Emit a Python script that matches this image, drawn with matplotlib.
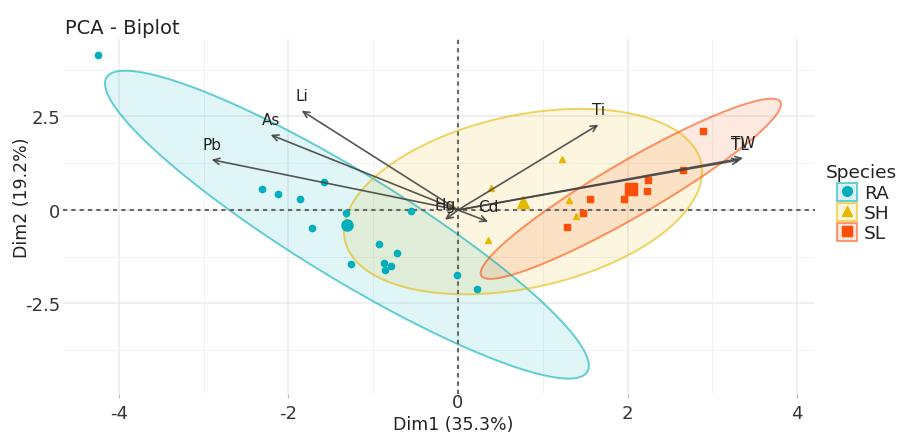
import numpy as np
import matplotlib
matplotlib.use("Agg")
import matplotlib.pyplot as plt
from matplotlib.patches import Patch, Polygon
from matplotlib.lines import Line2D
from matplotlib.legend_handler import HandlerTuple
from matplotlib.transforms import blended_transform_factory


# individuals
ra_x = [-4.245, -2.315, -2.126, -1.863, -1.577, -1.325, -1.725, -0.554,
        -0.928, -0.723, -0.869, -0.794, -0.857, -1.262, -0.015, 0.22]
ra_y = [4.14, 0.56, 0.42, 0.29, 0.74, -0.08, -0.47, -0.02,
        -0.90, -1.14, -1.41, -1.51, -1.60, -1.44, -1.74, -2.11]
sh_x = [1.230, 0.389, 1.313, 1.392, 0.350, -0.074]
sh_y = [1.364, 0.58, 0.275, -0.152, -0.81, 0.094]
sl_x = [2.893, 2.657, 2.241, 2.233, 1.961, 1.561, 1.470, 1.285]
sl_y = [2.104, 1.078, 0.81, 0.50, 0.286, 0.286, -0.08, -0.446]

species = ["RA", "SH", "SL"]
colors = ["#00AFBB", "#E7B800", "#FC4E07"]
markers = ["o", "^", "s"]

# variables
var_names = ["Li", "As", "Pb", "Ti", "TL", "TW", "Hg", "Cd"]
var_x = [-1.843, -2.209, -2.905, 1.655, 3.325, 3.361, -0.153, 0.354]
var_y = [2.655, 2.01, 1.345, 2.28, 1.34, 1.39, -0.26, -0.31]

x_ticks = [-4, -2, 0, 2, 4]
y_ticks = [-2.5, 0, 2.5]

FONT = "DejaVu Sans"
TEXT = "#222222"


def conf_ellipse(x, y, level=0.95, n_pts=120):
    """
    Normal confidence ellipse like ggplot's stat_ellipse(type = "norm").
    """
    x = np.asarray(x)
    y = np.asarray(y)
    n = len(x)
    cov = np.cov(x, y)
    d = n - 1
    f = d / 2 * ((1 - level) ** (-2 / d) - 1)   # qf(level, 2, d)
    r = np.sqrt(2 * f)
    upper = np.linalg.cholesky(cov).T
    t = np.linspace(0, 2 * np.pi, n_pts)
    circ = np.column_stack([np.cos(t), np.sin(t)])
    return np.array([x.mean(), y.mean()]) + r * circ @ upper


def main() -> None:
    plt.rcParams["font.family"] = [FONT]
    fig = plt.figure(figsize=(9.06, 4.35), dpi=100)
    ax = fig.add_axes([63 / 906, 1 - 395 / 435, 752 / 906, 355 / 435])

    groups = [(ra_x, ra_y), (sh_x, sh_y), (sl_x, sl_y)]

    for (gx, gy), col in zip(groups, colors):
        pts = conf_ellipse(gx, gy)
        ax.add_patch(Polygon(pts, closed=True, facecolor=col, alpha=0.12,
                             edgecolor="none", zorder=1))
        ax.add_patch(Polygon(pts, closed=True, facecolor="none",
                             edgecolor=col, lw=1.4, alpha=0.6, zorder=1.2))

    ax.axhline(0, color="#666666", lw=1.5, ls=(0, (2, 2)), zorder=1.5)
    ax.axvline(0, color="#666666", lw=1.5, ls=(0, (2, 2)), zorder=1.5)

    for (gx, gy), col, mk in zip(groups, colors, markers):
        ms = 4.5 if mk == "o" else 4.2
        ax.plot(gx, gy, ls="none", marker=mk, color=col, ms=ms, zorder=3)
        ax.plot(np.mean(gx), np.mean(gy), ls="none", marker=mk, color=col,
                ms=8, zorder=3)

    for name, vx, vy in zip(var_names, var_x, var_y):
        ax.annotate("", xy=(vx, vy), xytext=(0, 0),
                    arrowprops=dict(arrowstyle="->", color="#444444", lw=1.2,
                                    mutation_scale=11, shrinkA=0, shrinkB=0,
                                    alpha=0.9),
                    zorder=4)
        ax.annotate(name, xy=(vx, vy), xytext=(0, 11), textcoords="offset points",
                    ha="center", va="center", fontsize=11, color=TEXT,
                    zorder=5)

    ax.set_xlim(-4.658, 4.21)
    ax.set_ylim(-4.92, 4.572)
    ax.set_xticks(x_ticks)
    ax.set_yticks(y_ticks)
    # the "0" label sits higher than the others in the reference
    ax.set_xticklabels(["" if v == 0 else str(v) for v in x_ticks])
    ax.set_yticklabels(["-2.5", "0", "2.5"])
    ax.set_xticks([-3, -1, 1, 3], minor=True)
    ax.set_yticks([-3.75, -1.25, 1.25, 3.75], minor=True)
    ax.grid(True, which="major", color="#EBEBEB", lw=1.1, zorder=0)
    ax.grid(True, which="minor", color="#F2F2F2", lw=0.7, zorder=0)
    ax.set_axisbelow(True)
    for sp in ax.spines.values():
        sp.set_visible(False)
    ax.tick_params(axis="both", which="major", length=3, color="#BBBBBB",
                   labelsize=13, labelcolor="#333333", pad=4)
    ax.tick_params(axis="y", which="major", length=0, pad=2)
    ax.tick_params(which="minor", length=0)

    trans = blended_transform_factory(ax.transData, ax.transAxes)
    ax.annotate("0", xy=(0, 0), xycoords=trans, xytext=(0, -6),
                textcoords="offset points", ha="center", va="center",
                fontsize=13, color="#333333")

    ax.set_xlabel("Dim1 (35.3%)", fontsize=12.5, color=TEXT)
    ax.set_ylabel("Dim2 (19.2%)", fontsize=12.5, color=TEXT)
    ax.xaxis.set_label_coords(0.519, -0.085)
    ax.yaxis.set_label_coords(-0.0545, 0.555)
    ax.xaxis.label.set_va("center")
    ax.yaxis.label.set_va("center")

    fig.text(65 / 906, 1 - 28 / 435, "PCA - Biplot", fontsize=14,
             color=TEXT, va="center", ha="left")

    # legend: title placed on its own, left of the keys as in ggplot
    fig.text(826 / 906, 1 - 173 / 435, "Species", fontsize=13.3,
             color=TEXT, va="center", ha="left")
    handles = []
    for col, mk in zip(colors, markers):
        box = Patch(facecolor=(*matplotlib.colors.to_rgb(col), 0.15),
                    edgecolor=(*matplotlib.colors.to_rgb(col), 0.6), lw=1.3)
        dot = Line2D([], [], ls="none", marker=mk, color=col, ms=7)
        handles.append((box, dot))
    leg = fig.legend(handles, species, loc="upper left",
                     bbox_to_anchor=(837 / 906, 1 - 184 / 435), frameon=False,
                     handler_map={tuple: HandlerTuple(ndivide=1)},
                     handlelength=1.1, handleheight=1.1, handletextpad=0.35,
                     labelspacing=0.05, fontsize=13.3, borderpad=0,
                     borderaxespad=0)
    for t in leg.get_texts():
        t.set_color(TEXT)

    fig.savefig("out.png", dpi=100)


if __name__ == "__main__":
    main()
